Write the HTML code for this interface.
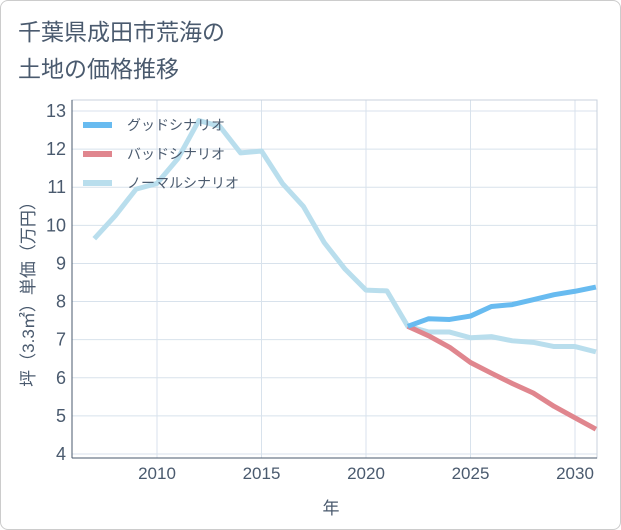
<!DOCTYPE html>
<html><head><meta charset="utf-8"><style>
body{margin:0;background:#fff;}
.card{position:absolute;left:0;top:0;width:619px;height:528px;border:1px solid #ccc;border-radius:8px;background:#fff;}
svg{position:absolute;left:0;top:0;}
text{font-family:"Liberation Sans","Noto Sans CJK JP",sans-serif;fill:#4a5a6e;}
</style></head><body>
<div class="card"></div>
<svg width="621" height="530">
<text x="18" y="40" font-size="23">千葉県成田市荒海の</text>
<text x="18" y="77" font-size="23">土地の価格推移</text>
<g id="grid"></g><g id="axes"></g><g id="lines"></g><g id="legend"></g>
<text x="331" y="514" font-size="17" text-anchor="middle">年</text>
<text transform="translate(34,290) rotate(-90)" font-size="17" text-anchor="middle">坪（3.3㎡）単価（万円）</text>
</svg>
<script>
const years=[2007,2008,2009,2010,2011,2012,2013,2014,2015,2016,2017,2018,2019,2020,2021,2022,2023,2024,2025,2026,2027,2028,2029,2030,2031];
const normal=[9.65,10.25,10.95,11.1,11.75,12.75,12.6,11.9,11.95,11.1,10.5,9.55,8.85,8.3,8.28,7.35,7.2,7.2,7.05,7.08,6.97,6.93,6.82,6.82,6.68];
const goodYears=[2022,2023,2024,2025,2026,2027,2028,2029,2030,2031];
const good=[7.35,7.55,7.53,7.62,7.87,7.92,8.05,8.18,8.27,8.38];
const bad=[7.35,7.1,6.8,6.4,6.12,5.85,5.6,5.25,4.95,4.65];
const yTicks=[4,5,6,7,8,9,10,11,12,13];
const xTicks=[2010,2015,2020,2025,2030];
const L=72,R=597,T=100,B=458;
const x=v=>157+(v-2010)*(575-157)/20;
const y=v=>454-(v-4)*(454-111)/9;
const NS="http://www.w3.org/2000/svg";
function mk(p,t,a){const e=document.createElementNS(NS,t);for(const k in a)e.setAttribute(k,a[k]);p.appendChild(e);return e;}
const g=document.getElementById('grid'),ax=document.getElementById('axes'),ln=document.getElementById('lines'),lg=document.getElementById('legend');
yTicks.forEach(v=>{const l=mk(g,'line',{x1:L,x2:R,y1:y(v),y2:y(v),stroke:'#d8e2ec','stroke-width':1});

const t=mk(ax,'text',{x:L-6,y:y(v)+6,'font-size':18,'text-anchor':'end'});t.textContent=v;
});
xTicks.forEach(v=>{const l=mk(g,'line',{x1:x(v),x2:x(v),y1:T,y2:B,stroke:'#d8e2ec','stroke-width':1});

const t=mk(ax,'text',{x:x(v),y:B+21,'font-size':17,'text-anchor':'middle'});t.textContent=v;
});
const f=mk(ax,'rect',{x:L,y:T,width:R-L,height:B-T,fill:'none',stroke:'#c8d2dc','stroke-width':1});

const ya=mk(ax,'line',{x1:L,x2:L,y1:T,y2:B,stroke:'#4a5a6e','stroke-width':1});

const xa=mk(ax,'line',{x1:L,x2:R,y1:B,y2:B,stroke:'#4a5a6e','stroke-width':1});

function series(xs,vs,c,n){const p=mk(ln,'polyline',{points:xs.map((a,i)=>x(a)+','+y(vs[i])).join(' '),fill:'none',stroke:c,'stroke-width':5,'stroke-linejoin':'round'});
}
series(years,normal,'#b9deed','normal-scenario-line');
series(goodYears,bad,'#e0868e','bad-scenario-line');
series(goodYears,good,'#68bbf0','good-scenario-line');
[['グッドシナリオ','#68bbf0','legend-good'],['バッドシナリオ','#e0868e','legend-bad'],['ノーマルシナリオ','#b9deed','legend-normal']].forEach((d,i)=>{
const yy=125+i*29;const l=mk(lg,'line',{x1:83,x2:112,y1:yy,y2:yy,stroke:d[1],'stroke-width':6});

const t=mk(lg,'text',{x:127,y:yy+5,'font-size':14});t.textContent=d[0];
});
</script>
</body></html>
